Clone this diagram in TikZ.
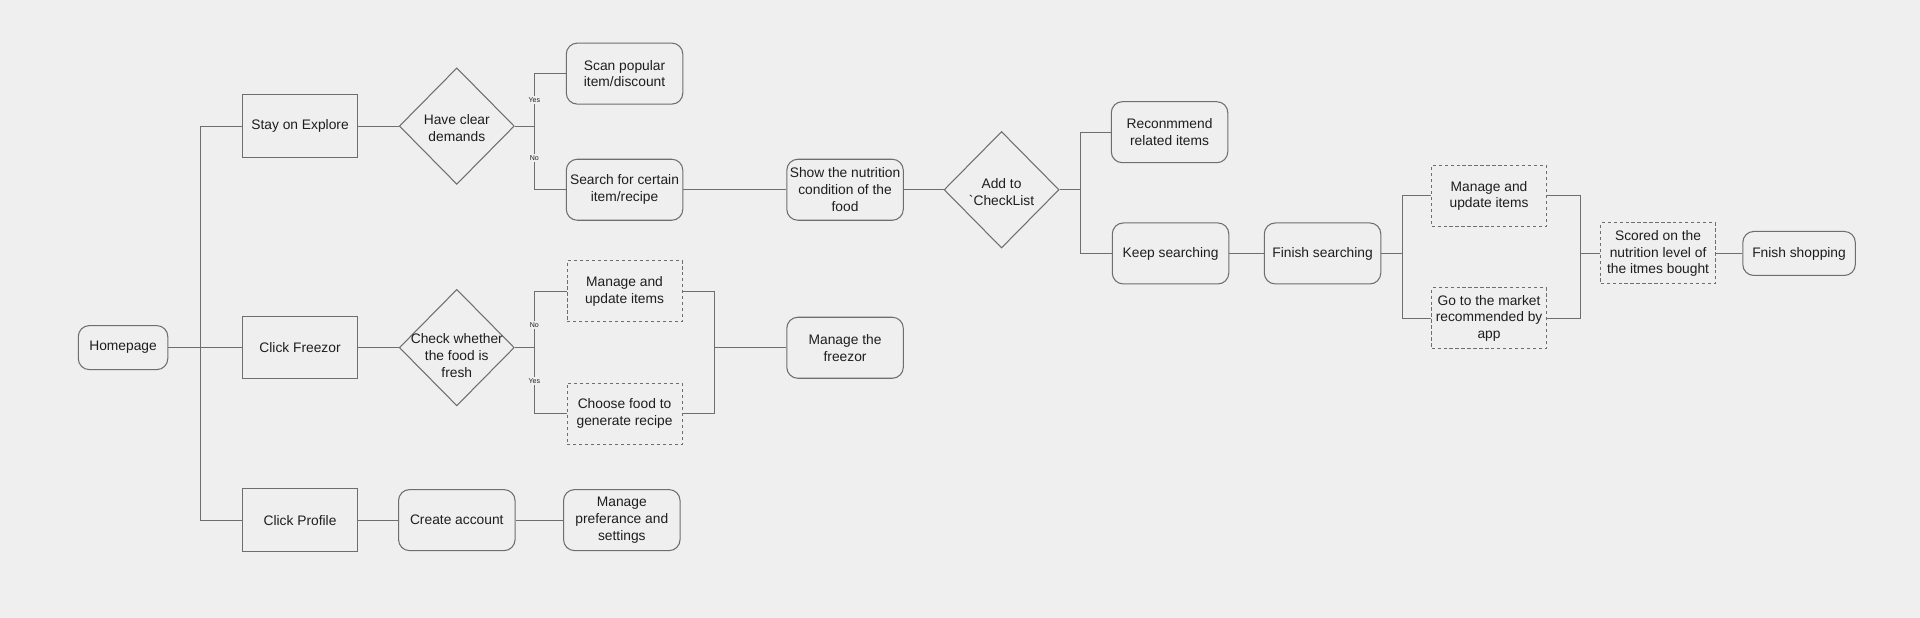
\documentclass[tikz,border=0pt]{standalone}
\usepackage{fontspec}
\setmainfont{Liberation Sans}
\usepackage{tikz}
\usetikzlibrary{shapes,calc,positioning}
\definecolor{bgc}{HTML}{EFEFEF}
\definecolor{edge}{HTML}{6E6E6E}
\definecolor{ink}{HTML}{1E1E1E}
\tikzstyle{wire} = [draw=edge, line width=0.6pt]
\tikzstyle{base} = [draw=edge, line width=0.6pt, fill=bgc, text=ink, align=center, inner sep=1pt, font=\fontsize{7.85}{9.6}\selectfont]
\tikzstyle{proc} = [base, rectangle, minimum width=2.3cm, minimum height=1.25cm]
\tikzstyle{rnd}  = [base, rectangle, rounded corners=0.22cm, minimum width=2.33cm, minimum height=1.22cm]
\tikzstyle{opt}  = [base, rectangle, dash pattern=on 1.8pt off 1.6pt, minimum width=2.3cm, minimum height=1.22cm]
\tikzstyle{dec}  = [base, diamond, minimum width=2.3cm, minimum height=2.33cm, inner sep=0pt]
\tikzstyle{lbl}  = [align=center, text=ink, font=\fontsize{7.85}{9.6}\selectfont, yshift=-0.04cm]
\tikzstyle{lab}  = [fill=bgc, text=ink, inner sep=0.8pt, font=\fontsize{4}{4}\selectfont]
\begin{document}
\begin{tikzpicture}[node distance=3.135cm]
    \fill[bgc, overlay] (-0.1,-0.1) rectangle (38.5,12.44);
    \useasboundingbox (0,0) rectangle (38.4,12.34);

    \node[rnd, minimum width=1.79cm, minimum height=0.88cm] (home) at (2.461,5.388) {Homepage};
    \node[proc, right of=home, node distance=3.54cm]    (freezor) {Click Freezor};
    \node[proc, above of=freezor, node distance=4.43cm] (explore) {Stay on Explore};
    \node[proc, below of=freezor, node distance=3.45cm] (profile) {Click Profile};

    \node[dec, right of=explore, label={[lbl]center:Have clear\\demands}] (demand) {};
    \node[dec, right of=freezor, label={[lbl, yshift=-0.12cm]center:Check whether\\the food is\\fresh}] (fresh) {};
    \node[rnd, right of=profile]                      (account) {Create account};
    \node[rnd, right of=account, node distance=3.3cm] (prefs) {Manage\\preferance and\\settings};

    \node[rnd, right of=demand, node distance=3.355cm, yshift=1.05cm]  (scan)   {Scan popular\\item/discount};
    \node[rnd, right of=demand, node distance=3.355cm, yshift=-1.273cm] (search) {Search for certain\\item/recipe};
    \node[opt, right of=fresh, node distance=3.355cm, yshift=1.126cm]   (upd)    {Manage and\\update items};
    \node[opt, right of=fresh, node distance=3.355cm, yshift=-1.323cm]  (choose) {Choose food to\\generate recipe};

    \node[rnd, right of=search, node distance=4.41cm] (nutri) {Show the nutrition\\condition of the\\food};
    \node[rnd, below of=nutri, node distance=3.16cm]  (fzr)   {Manage the\\freezor};
    \node[dec, right of=nutri, node distance=3.13cm, label={[lbl]center:Add to\\\textasciigrave CheckList}] (check) {};

    \node[rnd, right of=check, node distance=3.36cm, yshift=1.151cm]  (recom)  {Reconmmend\\related items};
    \node[rnd, right of=check, node distance=3.38cm, yshift=-1.274cm] (keep)   {Keep searching};
    \node[rnd, right of=keep, node distance=3.04cm]                   (finish) {Finish searching};
    \node[opt, right of=finish, node distance=3.33cm, yshift=1.151cm]  (upd2)   {Manage and\\update items};
    \node[opt, right of=finish, node distance=3.33cm, yshift=-1.297cm] (market) {Go to the market\\recommended by\\app};
    \node[opt, right of=finish, node distance=6.71cm] (score) {Scored on the\\nutrition level of\\the itmes bought};
    \node[rnd, right of=score, node distance=2.82cm, minimum width=2.25cm, minimum height=0.88cm] (shop) {Fnish shopping};

    \draw[wire] (home.east) -- (freezor.west);
    \draw[wire] (home.east) --++(right:0.635cm) |- (explore.west);
    \draw[wire] (home.east) --++(right:0.635cm) |- (profile.west);

    \draw[wire] (explore.east) -- (demand.west);
    \draw[wire] (freezor.east) -- (fresh.west);
    \draw[wire] (profile.east) -- (account.west);
    \draw[wire] (account.east) -- (prefs.west);

    \draw[wire] (demand.east) --++(right:0.39cm) |- node[lab, pos=0.25] {Yes} (scan.west);
    \draw[wire] (demand.east) --++(right:0.39cm) |- node[lab, pos=0.25] {No} (search.west);
    \draw[wire] (fresh.east) --++(right:0.39cm) |- node[lab, pos=0.2] {No} (upd.west);
    \draw[wire] (fresh.east) --++(right:0.39cm) |- node[lab, pos=0.25] {Yes} (choose.west);

    \coordinate (jf) at ($(upd.east)+(0.64,0)$);
    \draw[wire] (upd.east) -- (jf) |- (choose.east);
    \draw[wire] (jf |- fzr.west) -- (fzr.west);

    \draw[wire] (search.east) -- (nutri.west);
    \draw[wire] (nutri.east) -- (check.west);
    \draw[wire] (check.east) --++(right:0.42cm) |- (recom.west);
    \draw[wire] (check.east) --++(right:0.42cm) |- (keep.west);
    \draw[wire] (keep.east) -- (finish.west);
    \draw[wire] (finish.east) --++(right:0.416cm) |- (upd2.west);
    \draw[wire] (finish.east) --++(right:0.416cm) |- (market.west);

    \coordinate (jg) at ($(upd2.east)+(0.66,0)$);
    \draw[wire] (upd2.east) -- (jg) |- (market.east);
    \draw[wire] (jg |- score.west) -- (score.west);
    \draw[wire] (score.east) -- (shop.west);

\end{tikzpicture}
\end{document}
